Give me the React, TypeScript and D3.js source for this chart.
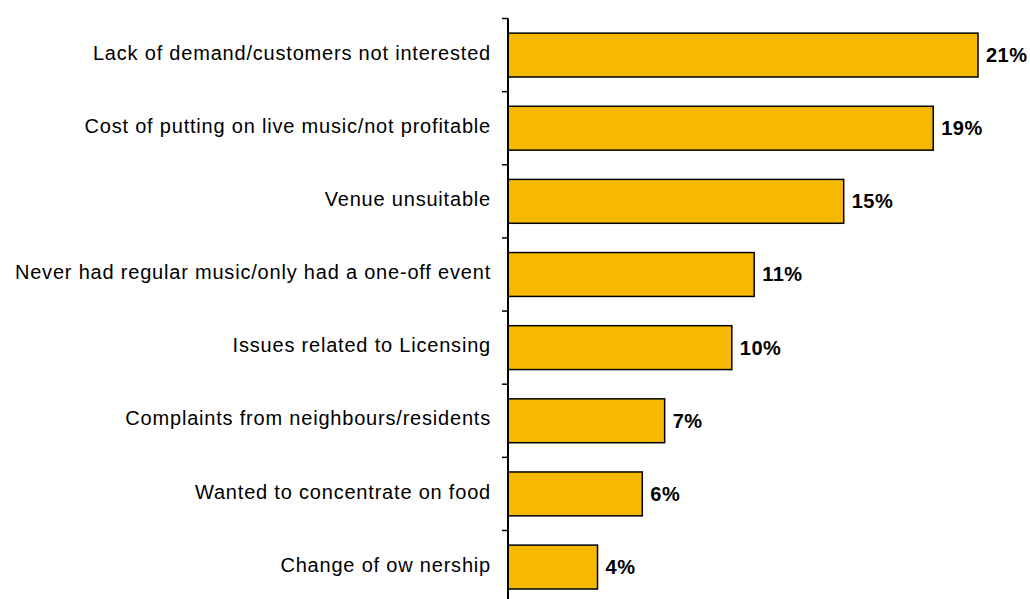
import React from "react";
import * as d3 from "d3";

const categories = [
  "Lack of demand/customers not interested",
  "Cost of putting on live music/not profitable",
  "Venue unsuitable",
  "Never had regular music/only had a one-off event",
  "Issues related to Licensing",
  "Complaints from neighbours/residents",
  "Wanted to concentrate on food",
  "Change of ow nership",
];
const values = [21, 19, 15, 11, 10, 7, 6, 4];
const valueLabels = ["21%", "19%", "15%", "11%", "10%", "7%", "6%", "4%"];

const W = 1030;
const H = 599;
const axisX = 508;
const topY = 18.5;
const band = 73.14;

export default function App() {
  const y = d3
    .scaleBand<string>()
    .domain(categories)
    .range([topY, topY + band * categories.length])
    .paddingInner(0.4)
    .paddingOuter(0.2);
  const x = d3.scaleLinear().domain([0, 21]).range([axisX, 978]);
  const bw = y.bandwidth();
  const step = y.step();
  const tickYs = d3.range(categories.length + 1).map((i) => topY + i * step);

  return (
    <svg
      width={W}
      height={H}
      style={{ position: "absolute", left: 0, top: 0, background: "#fff" }}
      fontFamily="'Liberation Sans', Arial, sans-serif"
    >
      {categories.map((c, i) => {
        const yy = y(c)!;
        return (
          <g key={c}>
            <rect
              x={x(0)}
              y={yy}
              width={x(values[i]) - x(0)}
              height={bw}
              fill="#F7B800"
              stroke="#000"
              strokeWidth={1.5}
            />
            <text
              x={491}
              y={yy + bw / 2}
              dy="0.23em"
              textAnchor="end"
              fontSize={20}
              fill="#000"
              letterSpacing="0.8"
            >
              {c}
            </text>
            <text
              x={x(values[i]) + 8}
              y={yy + bw / 2}
              dy="0.35em"
              fontSize={20}
              fontWeight="bold"
              fill="#000"
              letterSpacing="0.5"
            >
              {valueLabels[i]}
            </text>
          </g>
        );
      })}
      <line x1={axisX} x2={axisX} y1={topY} y2={H + 10} stroke="#000" strokeWidth={2} />
      {tickYs.map((t, i) => (
        <line key={i} x1={axisX - 6} x2={axisX} y1={t} y2={t} stroke="#000" strokeWidth={1.5} />
      ))}
    </svg>
  );
}
